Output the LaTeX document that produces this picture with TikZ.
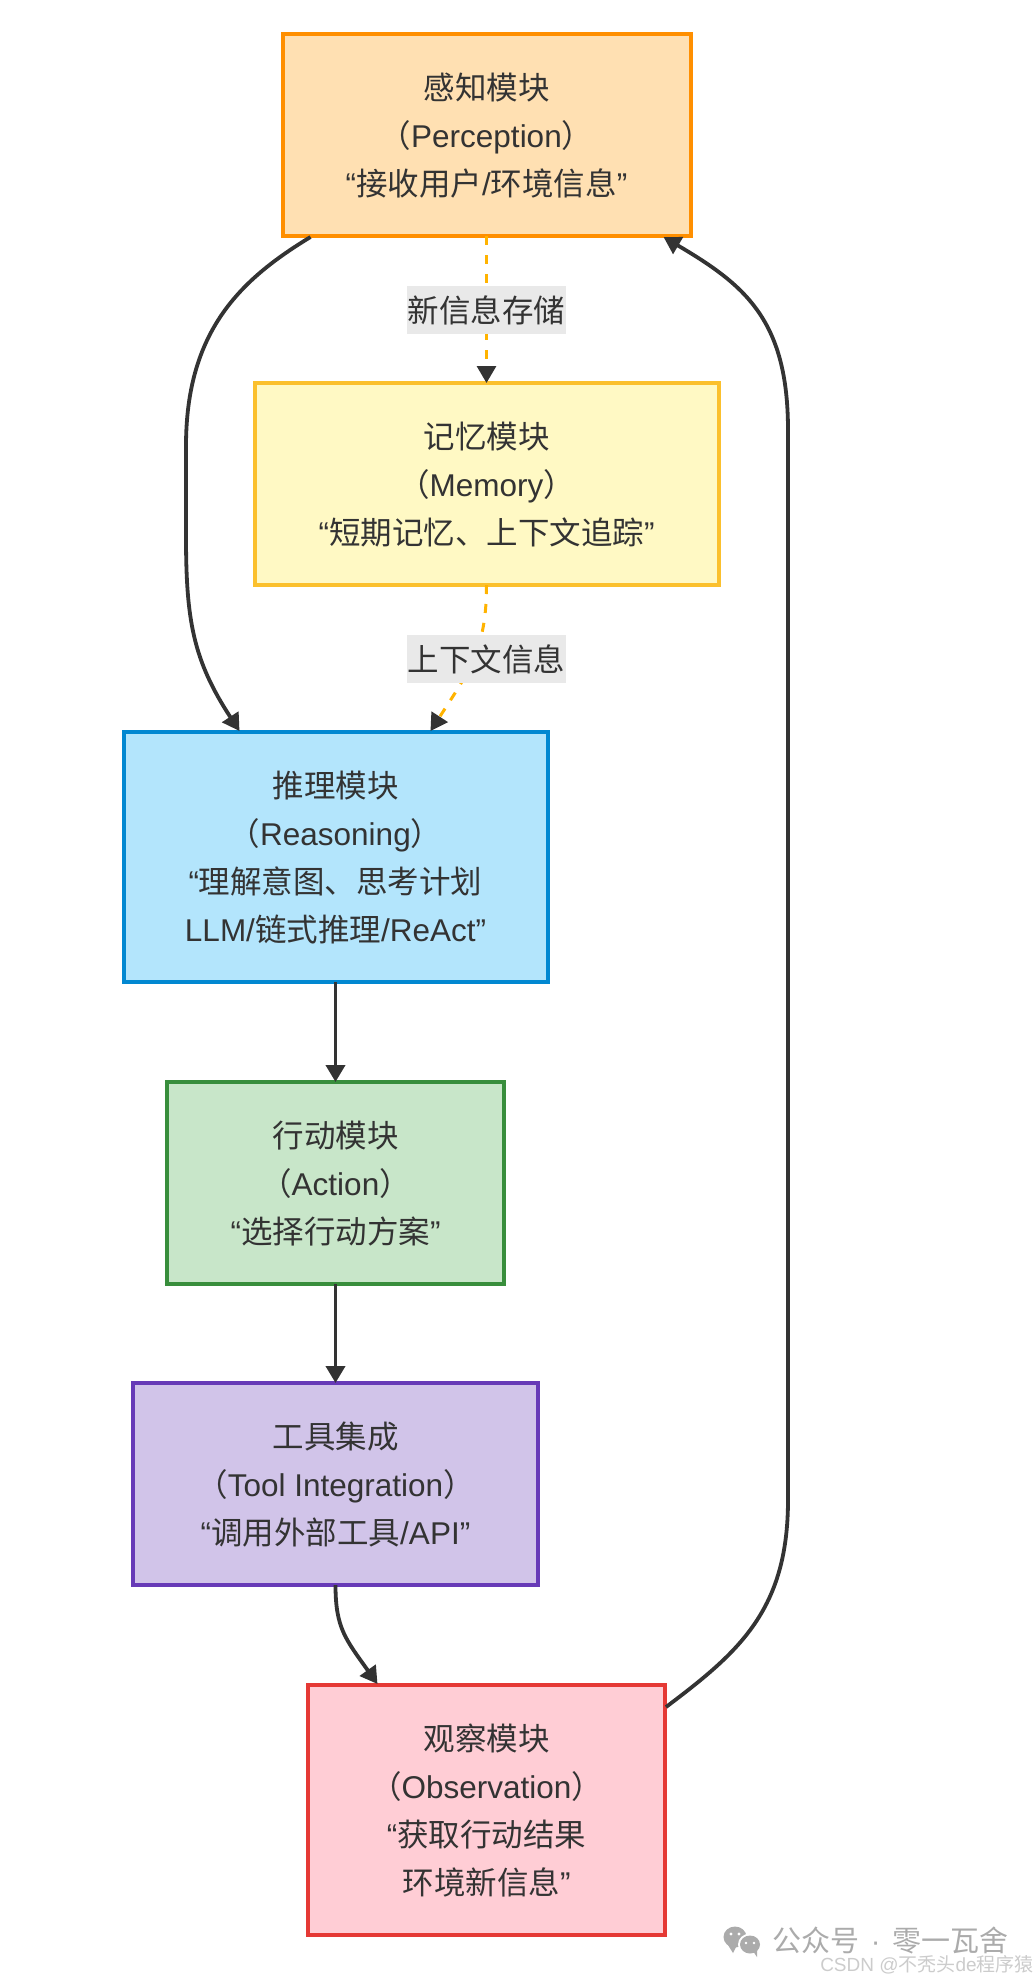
\documentclass[tikz,border=0pt]{standalone}
\usepackage{fontspec}
\setmainfont{Noto Sans CJK SC}
\newfontfamily\latf{Liberation Sans}
\newfontfamily\wmf{Liberation Sans}
\newcommand{\lat}[1]{{\latf #1}}
\newcommand{\tp}{\rule{0pt}{27pt}}
\usetikzlibrary{arrows.meta,calc}
\definecolor{ink}{HTML}{333333}
\tikzset{
  x=1pt,y=-1pt,
  modbox/.style={draw,line width=4pt,rectangle,inner sep=0pt,outer sep=0pt,text=ink,align=center,
    font=\fontsize{31.5}{48}\selectfont},
  edgelabel/.style={fill=labelgray,rectangle,inner sep=0pt,text=ink,minimum width=159pt,minimum height=47.5pt,
    font=\fontsize{31.5}{40}\selectfont},
  flow/.style={draw=ink,line width=3.8pt,-{Triangle[length=17pt,width=19pt]}},
  memflow/.style={draw=amber,line width=3pt,dash pattern=on 9pt off 10pt,-{Triangle[length=17pt,width=19pt,color=ink]}},
  wm/.style={inner sep=0pt,text=wmgray,font=\fontsize{29}{32}\selectfont},
  wmb/.style={inner sep=0pt,text=wmlight,font=\fontsize{19}{24}\selectfont\wmf},
}
\definecolor{labelgray}{HTML}{E9E9E9}
\definecolor{amber}{HTML}{FFB300}
\definecolor{wmgray}{HTML}{ABABAB}
\definecolor{wmlight}{HTML}{CCCCCC}
\begin{document}
\begin{tikzpicture}
\useasboundingbox (0,0) rectangle (1036,1982);
\fill[white] (0,0) rectangle (1036,1982);

\node[modbox,fill={rgb,255:red,255;green,224;blue,178},draw={rgb,255:red,255;green,143;blue,0},minimum width=408pt,minimum height=202pt] (perc) at (486.5,135)
  {\tp 感知模块\\（\lat{Perception}）\\\lat{“}接收用户\lat{/}环境信息\lat{”}};
\node[modbox,fill={rgb,255:red,255;green,249;blue,196},draw={rgb,255:red,251;green,192;blue,45},minimum width=464pt,minimum height=202pt] (mem) at (486.5,484)
  {\tp 记忆模块\\（\lat{Memory}）\\\lat{“}短期记忆、上下文追踪\lat{”}};
\node[modbox,fill={rgb,255:red,179;green,229;blue,252},draw={rgb,255:red,2;green,136;blue,209},minimum width=424pt,minimum height=250pt] (reas) at (335.5,857)
  {\tp 推理模块\\（\lat{Reasoning}）\\\lat{“}理解意图、思考计划\\\lat{LLM/}链式推理\lat{/ReAct”}};
\node[modbox,fill={rgb,255:red,200;green,230;blue,201},draw={rgb,255:red,56;green,142;blue,60},minimum width=337pt,minimum height=202pt] (act) at (335.5,1183)
  {\tp 行动模块\\（\lat{Action}）\\\lat{“}选择行动方案\lat{”}};
\node[modbox,fill={rgb,255:red,209;green,196;blue,233},draw={rgb,255:red,103;green,58;blue,183},minimum width=405pt,minimum height=202pt] (tool) at (335.5,1484)
  {\tp 工具集成\\（\lat{Tool Integration}）\\\lat{“}调用外部工具\lat{/API”}};
\node[modbox,fill={rgb,255:red,255;green,205;blue,213},draw={rgb,255:red,229;green,57;blue,53},minimum width=357pt,minimum height=250pt] (obs) at (486.5,1810)
  {\tp 观察模块\\（\lat{Observation}）\\\lat{“}获取行动结果\\环境新信息\lat{”}};

\draw[flow] ($(perc.south)+(-176,1)$) .. controls +(-69,42) and +(0,-116) .. (186,446) -- (186,536)
   .. controls (186,620) and (193,660) .. ($(reas.north)+(-96,-1)$);
\draw[memflow] (perc.south) -- (mem.north);
\draw[memflow] (mem.south) .. controls +(0,63) and (470,670) .. ($(reas.north)+(95,-1)$);
\draw[flow] (reas.south) -- (act.north);
\draw[flow] (act.south) -- (tool.north);
\draw[flow] (tool.south) .. controls +(0,43) and +(-32,-45) .. ($(obs.north)+(-109,-1)$);
\draw[flow] ($(obs.north east)+(1,22)$) .. controls +(73,-55) and (788,1610) .. (788,1500) -- (788,430)
   .. controls (788,320) and (745,285) .. ($(perc.south)+(177,1)$);

\node[edgelabel] (lblnew) at (486.5,310) {\raisebox{-1pt}{新信息存储}};
\node[edgelabel] (lblctx) at (486.5,659) {\raisebox{-1pt}{上下文信息}};

% watermark
\fill[wmgray] (735,1937) ellipse (11.5 and 10.5);
\fill[wmgray] (728,1945) -- (733,1953) -- (737,1945) -- cycle;
\fill[white] (750,1944.5) ellipse (12 and 11);
\fill[wmgray] (750,1944.5) ellipse (10 and 9);
\fill[wmgray] (753,1951) -- (757,1957) -- (757,1949) -- cycle;
\fill[white] (731,1934) circle (1.6) (739,1934) circle (1.6) (746,1943) circle (1.4) (754,1943) circle (1.4);
\node[wm,anchor=west] (wmname) at (772,1940) {公众号\hspace{.4em}\lat{·}\hspace{.4em}零一瓦舍};
\node[wmb,anchor=east] (wmcsdn) at (1034,1965) {CSDN @{\rmfamily 不秃头}de{\rmfamily 程序猿}};
\end{tikzpicture}
\end{document}
